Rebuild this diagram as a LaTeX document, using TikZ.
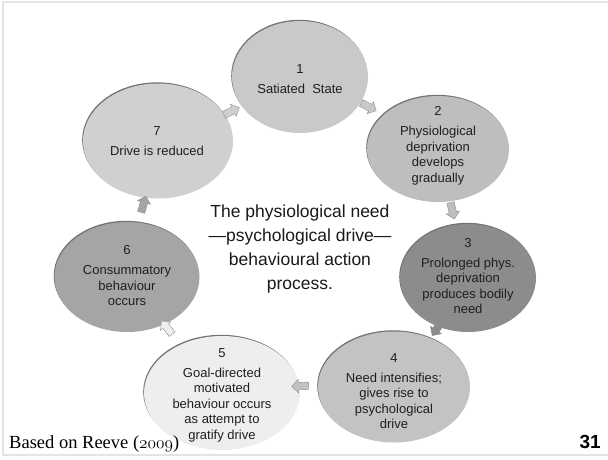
\documentclass[tikz,border=0pt]{standalone}
\usepackage{fontspec}
\newfontfamily\arialfont{Liberation Sans}
\newfontfamily\timesfont{Liberation Serif}
\usetikzlibrary{shapes.geometric,shapes.arrows,shadows}
\definecolor{fillA}{HTML}{C9C9C9}
\definecolor{fillB}{HTML}{BEBEBE}
\definecolor{fillC}{HTML}{8C8C8C}
\definecolor{fillD}{HTML}{C3C3C3}
\definecolor{fillE}{HTML}{EEEEEE}
\definecolor{fillF}{HTML}{A5A5A5}
\definecolor{fillG}{HTML}{D0D0D0}
\definecolor{framegray}{HTML}{E4E4E4}
\begin{document}
\begin{tikzpicture}[x=1pt,y=-1pt,
  stage/.style={ellipse, inner sep=0pt, fill=#1,
    general shadow={fill=black!55, shadow xshift=-0.8pt, shadow yshift=1.2pt}},
  stagetext/.style={align=center, text=black!88, inner sep=0pt,
    font=\arialfont\fontsize{13}{15.5}\selectfont},
  flow/.style={single arrow, fill=#1, draw=black!45, line width=0.4pt,
    minimum height=17pt, inner sep=3.5pt, single arrow head extend=3pt},
]
\useasboundingbox (0,0) rectangle (608,459);

% slide frame
\draw[framegray, line width=1.2pt] (608,2) -- (3,2) -- (3,455) -- (608,455);

% stages of the cycle
\node[stage=fillA, minimum width=136pt, minimum height=112pt] (c1) at (300,77) {};
\node[stage=fillB, minimum width=142pt, minimum height=106pt] (c2) at (438,149) {};
\node[stage=fillC, minimum width=136pt, minimum height=108pt] (c3) at (468,278) {};
\node[stage=fillD, minimum width=152pt, minimum height=111pt] (c4) at (394,387) {};
\node[stage=fillE, minimum width=156pt, minimum height=114pt] (c5) at (222,393) {};
\node[stage=fillF, minimum width=145pt, minimum height=110pt] (c6) at (127,277) {};
\node[stage=fillG, minimum width=150pt, minimum height=115pt] (c7) at (158,141) {};

\node[stagetext] (t1) at ([yshift=-2pt]c1.center) {1\\[4.5pt]Satiated\ \ State};
\node[stagetext] (t2) at ([yshift=3pt]c2.center) {2\\[4.5pt]Physiological\\deprivation\\develops\\gradually};
\node[stagetext] (t3) at ([yshift=2pt]c3.center) {3\\[4.5pt]Prolonged phys.\\deprivation\\produces bodily\\need};
\node[stagetext] (t4) at ([yshift=-4pt]c4.center) {4\\[4.5pt]Need intensifies;\\gives rise to\\psychological\\drive};
\node[stagetext] (t5) at ([yshift=-2pt]c5.center) {5\\[4.5pt]Goal-directed\\motivated\\behaviour occurs\\as attempt to\\gratify drive};
\node[stagetext] (t6) at ([yshift=1pt]c6.center) {6\\[4.5pt]Consummatory\\behaviour\\occurs};
\node[stagetext] (t7) at ([xshift=-1pt]c7.center) {7\\[4.5pt]Drive is reduced};

% arrows between the stages
\node[flow=fillA, rotate=-27] (a12) at (367,106) {};
\node[flow=fillB, rotate=-77] (a23) at (452,209) {};
\node[flow=fillC, rotate=-124] (a34) at (438,327) {};
\node[flow=fillD, rotate=182] (a45) at (302,386) {};
\node[flow=fillE, rotate=129] (a56) at (168,329) {};
\node[flow=fillF, rotate=74] (a67) at (143,206) {};
\node[flow=fillG, rotate=26] (a71) at (230,112) {};

% title in the middle
\node[align=center, inner sep=0pt, text=black!90,
  font=\arialfont\fontsize{17.5}{24}\selectfont] (title) at (300,249)
  {The physiological need\\—psychological drive—\\behavioural action\\process.};

% footer
\node[anchor=base west, inner sep=0pt, font=\timesfont\fontsize{18.5}{18.5}\selectfont] (src) at (9,448)
  {Based on Reeve ({\usefont{OML}{cmm}{m}{it}2009})};
\node[anchor=base east, inner sep=0pt, font=\arialfont\bfseries\fontsize{19}{19}\selectfont] (pg) at (601,448) {31};
\end{tikzpicture}
\end{document}
